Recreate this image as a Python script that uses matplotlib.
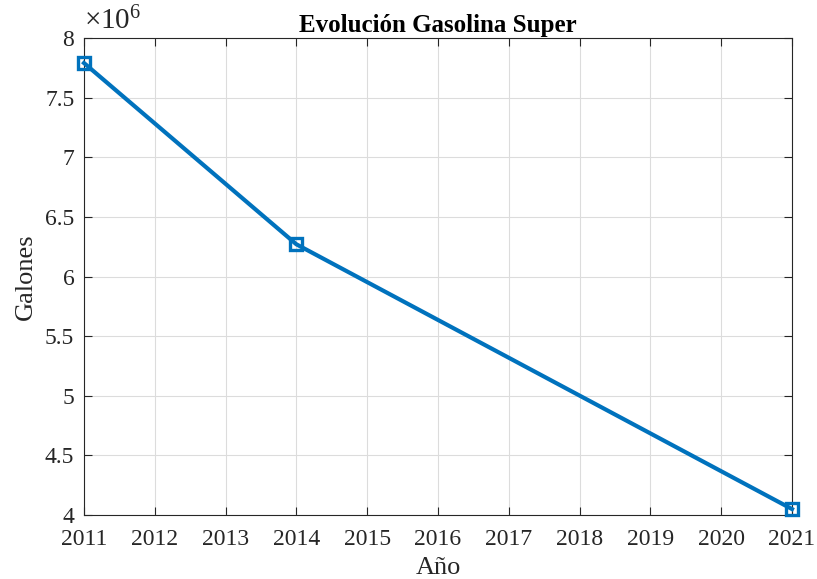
import matplotlib
matplotlib.use("Agg")
import matplotlib.pyplot as plt
from matplotlib.ticker import FuncFormatter, MultipleLocator

years = [2011, 2014, 2021]
galones = [7.79e6, 6.27e6, 4.05e6]

plt.rcParams["font.family"] = ["Liberation Serif", "DejaVu Serif"]
plt.rcParams["mathtext.fontset"] = "custom"
plt.rcParams["mathtext.rm"] = "Liberation Serif"
plt.rcParams["mathtext.it"] = "Liberation Serif:italic"

fig = plt.figure(figsize=(8.17, 5.79), dpi=100)
ax = fig.add_axes([0.1028, 0.1105, 0.8666, 0.8239])

ax.plot(years, galones, color="#0072BD", lw=3, marker="s", ms=8,
        mfc="none", mew=2.4, clip_on=False, zorder=3)

ax.set_xlim(2011, 2021)
ax.set_ylim(4e6, 8e6)
ax.xaxis.set_major_locator(MultipleLocator(1))
ax.yaxis.set_major_locator(MultipleLocator(0.5e6))
ax.yaxis.set_major_formatter(FuncFormatter(lambda v, p: f"{v / 1e6:g}"))

ax.grid(True, color="#dcdcdc", lw=0.8)
ax.set_axisbelow(True)
ax.tick_params(direction="in", length=6, width=0.8, labelsize=17,
               top=True, right=True)
ax.tick_params(axis="x", pad=10)
ax.tick_params(axis="y", pad=7)
ax.tick_params(axis="both", labelcolor="#262626", color="#262626")
for s in ax.spines.values():
    s.set_color("#262626")
    s.set_linewidth(0.8)

ax.set_title("Evolución Gasolina Super", fontsize=18, fontweight="bold", pad=4)
ax.set_xlabel("Año", fontsize=19, color="#262626", labelpad=5)
ax.set_ylabel("Galones", fontsize=19, color="#262626", labelpad=6)
ax.text(0.0, 1.005, r"$\times10^{6}$", transform=ax.transAxes, fontsize=21,
        color="#262626", ha="left", va="bottom")

fig.savefig("out.png", dpi=100)
